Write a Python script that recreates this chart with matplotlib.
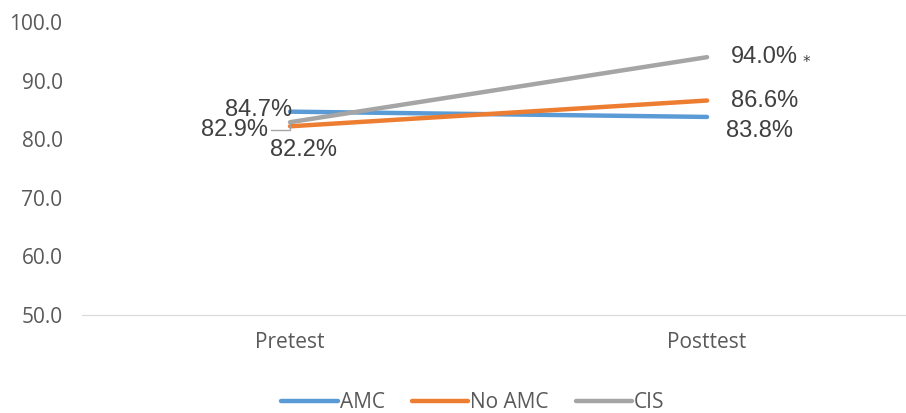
import matplotlib.pyplot as plt

categories = ["Pretest", "Posttest"]
amc = [84.7, 83.8]
no_amc = [82.2, 86.6]
cis = [82.9, 94.0]
yticks = [50, 60, 70, 80, 90, 100]

colors = {"AMC": "#5B9BD5", "No AMC": "#ED7D31", "CIS": "#A5A5A5"}
txt = "#404040"

fig = plt.figure(figsize=(9.06, 4.13), dpi=100)
ax = fig.add_axes([82 / 906, 98 / 413, (906 - 82) / 906, 293 / 413])

x = list(range(len(categories)))
ax.plot(x, amc, color=colors["AMC"], lw=3.2, label="AMC", solid_capstyle="round")
ax.plot(x, no_amc, color=colors["No AMC"], lw=3.2, label="No AMC", solid_capstyle="round")
ax.plot(x, cis, color=colors["CIS"], lw=3.2, label="CIS", solid_capstyle="round")

ax.set_xlim(-0.4988, 1.477)
ax.set_ylim(50, 100)
ax.set_yticks(yticks)
ax.set_yticklabels([f"{v:.1f}" for v in yticks], family="Open Sans")
ax.set_xticks(x)
ax.set_xticklabels(categories, family="Open Sans")
ax.tick_params(axis="y", length=0, pad=14, labelsize=15, labelcolor="#595959")
ax.tick_params(axis="x", length=0, pad=12, labelsize=15, labelcolor="#595959")
for s in ["top", "right", "left"]:
    ax.spines[s].set_visible(False)
ax.spines["bottom"].set_color("#D9D9D9")

fs = 17
def lab(xv, yv, s, dx, dy, ha, **kw):
    ax.annotate(s, (xv, yv), xytext=(dx, dy), textcoords="offset pixels",
                ha=ha, va="center", fontsize=fs, color=txt,
                family="Liberation Sans", **kw)

# pretest labels
lab(0, amc[0], f"{amc[0]}%", 2, 2, "right")
lab(0, cis[0], f"{cis[0]}%", -22, -8, "right",
    arrowprops=dict(arrowstyle="-", color="#A5A5A5", lw=1,
                    shrinkA=0, shrinkB=2, connectionstyle="angle,angleA=0,angleB=90"))
lab(0, no_amc[0], f"{no_amc[0]}%", -20, -24, "left")
# posttest labels
lab(1, cis[1], f"{cis[1]}%", 24, 0, "left")
ax.annotate("*", (1, cis[1]), xytext=(99, -5), textcoords="offset pixels",
            ha="center", va="center", fontsize=11, color=txt)
lab(1, no_amc[1], f"{no_amc[1]}%", 24, 0, "left")
lab(1, amc[1], f"{amc[1]}%", 19, -14, "left")

fig.legend(loc="center", bbox_to_anchor=(473 / 906, 10 / 413), ncol=3, frameon=False,
           prop={"family": "Open Sans", "size": 15}, handlelength=2.7,
           handletextpad=0.1, columnspacing=1.3, labelcolor="#595959")

fig.savefig("out.png", dpi=100)
